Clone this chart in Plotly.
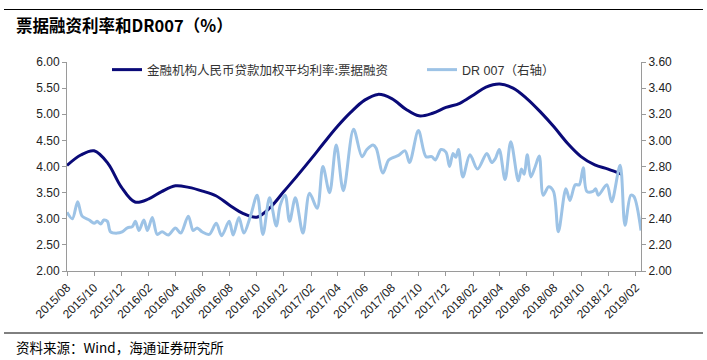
import plotly.graph_objects as go

# Bill financing weighted average rate (monthly, left axis, %)
bill_dates = [
    "2015-08-01", "2015-09-01", "2015-10-01", "2015-11-01", "2015-12-01",
    "2016-01-01", "2016-02-01", "2016-03-01", "2016-04-01", "2016-05-01",
    "2016-06-01", "2016-07-01", "2016-08-01", "2016-09-01", "2016-10-01",
    "2016-11-01", "2016-12-01", "2017-01-01", "2017-02-01", "2017-03-01",
    "2017-04-01", "2017-05-01", "2017-06-01", "2017-07-01", "2017-08-01",
    "2017-09-01", "2017-10-01", "2017-11-01", "2017-12-01", "2018-01-01",
    "2018-02-01", "2018-03-01", "2018-04-01", "2018-05-01", "2018-06-01",
    "2018-07-01", "2018-08-01", "2018-09-01", "2018-10-01", "2018-11-01",
    "2018-12-01", "2019-01-01",
]
bill_rate = [
    4.02, 4.22, 4.30, 4.06, 3.61,
    3.32, 3.38, 3.52, 3.63, 3.60,
    3.53, 3.44, 3.26, 3.10, 3.03,
    3.22, 3.52, 3.83, 4.15, 4.45,
    4.77, 5.04, 5.27, 5.38, 5.30,
    5.10, 4.97, 5.02, 5.13, 5.21,
    5.37, 5.52, 5.58, 5.50, 5.30,
    5.05, 4.76, 4.44, 4.19, 4.03,
    3.95, 3.85,
]

# DR007 (right axis, %)
dr_dates = [
    "2015-08-01", "2015-08-13", "2015-08-25", "2015-09-04", "2015-09-20",
    "2015-10-01", "2015-10-08", "2015-10-16", "2015-10-23", "2015-10-31",
    "2015-11-07", "2015-11-22", "2015-12-03", "2015-12-15", "2015-12-26",
    "2016-01-02", "2016-01-10", "2016-01-21", "2016-01-29", "2016-02-09",
    "2016-02-20", "2016-03-02", "2016-03-16", "2016-04-01", "2016-04-13",
    "2016-04-30", "2016-05-11", "2016-05-20", "2016-05-31", "2016-06-16",
    "2016-07-02", "2016-07-14", "2016-07-31", "2016-08-09", "2016-08-22",
    "2016-09-02", "2016-09-17", "2016-10-02", "2016-10-15", "2016-10-30",
    "2016-11-14", "2016-11-23", "2016-12-04", "2016-12-14", "2016-12-27",
    "2017-01-13", "2017-01-28", "2017-02-14", "2017-02-27", "2017-03-14",
    "2017-03-29", "2017-04-14", "2017-05-07", "2017-05-26", "2017-06-06",
    "2017-06-20", "2017-06-27", "2017-07-12", "2017-07-25", "2017-08-05",
    "2017-08-16", "2017-08-31", "2017-09-10", "2017-09-30", "2017-10-17",
    "2017-10-30", "2017-11-07", "2017-11-20", "2017-12-01", "2017-12-09",
    "2017-12-17", "2017-12-23", "2017-12-29", "2018-01-08", "2018-01-24",
    "2018-02-10", "2018-03-03", "2018-03-14", "2018-03-22", "2018-03-31",
    "2018-04-13", "2018-04-26", "2018-05-13", "2018-05-20", "2018-05-26",
    "2018-06-02", "2018-06-10", "2018-06-20", "2018-06-29", "2018-07-08",
    "2018-07-20", "2018-07-31", "2018-08-11", "2018-08-28", "2018-09-06",
    "2018-09-18", "2018-09-27", "2018-10-06", "2018-10-14", "2018-10-28",
    "2018-11-03", "2018-11-09", "2018-11-28", "2018-12-09", "2018-12-28",
    "2019-01-08", "2019-01-21", "2019-01-28", "2019-02-13",
]
dr007 = [
    2.45, 2.40, 2.53, 2.42, 2.39,
    2.365, 2.38, 2.36, 2.39, 2.38,
    2.30, 2.29, 2.30, 2.33, 2.34,
    2.38, 2.31, 2.39, 2.31, 2.41,
    2.28, 2.30, 2.275, 2.33, 2.29,
    2.42, 2.31, 2.33, 2.30, 2.28,
    2.365, 2.27, 2.38, 2.275, 2.41,
    2.29, 2.42, 2.58, 2.28, 2.56,
    2.345, 2.505, 2.58, 2.38, 2.56,
    2.29, 2.595, 2.48, 2.80, 2.60,
    2.965, 2.615, 3.085, 2.875, 2.93,
    2.965, 2.94, 2.75, 2.85, 2.87,
    2.885, 2.92, 2.83, 3.075, 2.875,
    2.875, 2.85, 2.93, 2.91, 2.80,
    2.90, 2.87, 2.93, 2.72, 2.89,
    2.78, 2.90, 2.83, 2.86, 2.93,
    2.70, 2.99, 2.69, 2.78, 2.74,
    2.89, 2.72, 2.80, 2.88, 2.58,
    2.645, 2.61, 2.30, 2.63, 2.54,
    2.66, 2.66, 2.79, 2.61, 2.61,
    2.63, 2.58, 2.66, 2.53, 2.81,
    2.35, 2.58, 2.57, 2.31,
]

name_bill = "金融机构人民币贷款加权平均利率:票据融资"
name_dr = "DR 007（右轴）"
title_text = "票据融资利率和DR007（%）"
source_text = "资料来源：Wind，海通证券研究所"

tick_vals = [
    "2015-08-01", "2015-10-01", "2015-12-01", "2016-02-01", "2016-04-01",
    "2016-06-01", "2016-08-01", "2016-10-01", "2016-12-01", "2017-02-01",
    "2017-04-01", "2017-06-01", "2017-08-01", "2017-10-01", "2017-12-01",
    "2018-02-01", "2018-04-01", "2018-06-01", "2018-08-01", "2018-10-01",
    "2018-12-01", "2019-02-01",
]
tick_text = [
    "2015/08", "2015/10", "2015/12", "2016/02", "2016/04", "2016/06",
    "2016/08", "2016/10", "2016/12", "2017/02", "2017/04", "2017/06",
    "2017/08", "2017/10", "2017/12", "2018/02", "2018/04", "2018/06",
    "2018/08", "2018/10", "2018/12", "2019/02",
]

W, H = 707, 360
L, R, T, B = 67, 66, 62, 89
pw, ph = W - L - R, H - T - B


def px_x(px):
    return (px - L) / pw


def px_y(py):
    return (H - B - py) / ph


fig = go.Figure()
fig.add_trace(go.Scatter(
    x=dr_dates, y=dr007, name=name_dr, yaxis="y2", mode="lines",
    line=dict(color="#9DC3E6", width=3, shape="spline", smoothing=0.9),
    legend="legend2",
))
fig.add_trace(go.Scatter(
    x=bill_dates, y=bill_rate, name=name_bill, mode="lines",
    line=dict(color="#0A0A78", width=3, shape="spline", smoothing=1.0),
    legend="legend",
))

axis_color = "#9A9A9A"
tick_font = dict(family="Liberation Sans, Arial, sans-serif", size=12, color="#222222")

fig.update_layout(
    width=W, height=H,
    margin=dict(l=L, r=R, t=T, b=B, autoexpand=False),
    paper_bgcolor="white", plot_bgcolor="white",
    font=dict(family="Liberation Sans, Noto Sans CJK SC, sans-serif", size=12, color="#222"),
    xaxis=dict(
        type="date", range=["2015-08-01", "2019-02-13"],
        tickvals=tick_vals, ticktext=tick_text, tickangle=-45,
        showline=True, linecolor=axis_color, linewidth=1,
        ticks="outside", ticklen=4, tickcolor=axis_color,
        showgrid=False, zeroline=False, tickfont=tick_font,
    ),
    yaxis=dict(
        range=[2, 6], dtick=0.5, tick0=2, tickformat=".2f",
        showline=True, linecolor=axis_color, linewidth=1,
        ticks="outside", ticklen=4, tickcolor=axis_color,
        showgrid=False, zeroline=False, tickfont=tick_font,
    ),
    yaxis2=dict(
        range=[2, 3.6], dtick=0.2, tick0=2, tickformat=".2f",
        overlaying="y", side="right",
        showline=True, linecolor=axis_color, linewidth=1,
        ticks="outside", ticklen=4, tickcolor=axis_color,
        showgrid=False, zeroline=False, tickfont=tick_font,
    ),
    legend=dict(
        x=px_x(107), y=px_y(70), xanchor="left", yanchor="middle",
        orientation="h", bgcolor="rgba(0,0,0,0)", borderwidth=0,
        font=dict(family="Noto Sans CJK SC, sans-serif", size=12.5, color="#333"),
    ),
    legend2=dict(
        x=px_x(422), y=px_y(70), xanchor="left", yanchor="middle",
        orientation="h", bgcolor="rgba(0,0,0,0)", borderwidth=0,
        font=dict(family="Liberation Sans, Noto Sans CJK SC, sans-serif", size=12.5, color="#333"),
    ),
    showlegend=True,
)

# Header and footer rules
fig.add_shape(type="line", xref="paper", yref="paper",
              x0=px_x(4), x1=px_x(703), y0=px_y(9.5), y1=px_y(9.5),
              line=dict(color="black", width=1))
fig.add_shape(type="line", xref="paper", yref="paper",
              x0=px_x(4), x1=px_x(703), y0=px_y(333), y1=px_y(333),
              line=dict(color="black", width=1))

fig.add_annotation(
    text="<b>" + title_text + "</b>", xref="paper", yref="paper",
    x=px_x(14), y=px_y(25), xanchor="left", yanchor="middle", showarrow=False,
    font=dict(family="Noto Sans CJK SC, Liberation Sans, sans-serif", size=16.5, color="black"),
)
fig.add_annotation(
    text=source_text, xref="paper", yref="paper",
    x=px_x(14), y=px_y(347), xanchor="left", yanchor="middle", showarrow=False,
    font=dict(family="Noto Sans CJK SC, Liberation Sans, sans-serif", size=13.5, color="black"),
)

fig.write_html(
    "out.html",
    config={"displayModeBar": False},
    post_script="document.body.style.margin='0';document.body.style.padding='0';",
)
